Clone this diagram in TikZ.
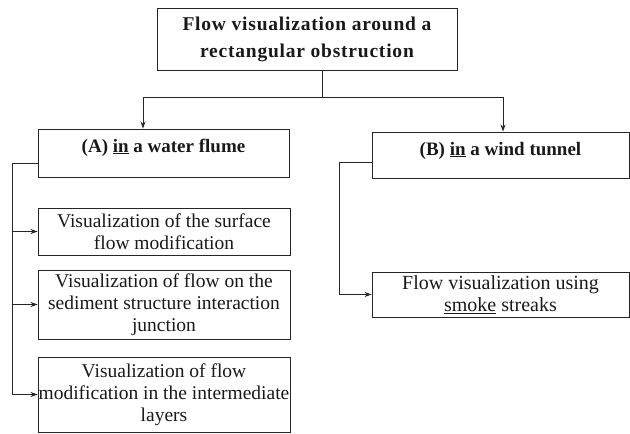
\documentclass[tikz,border=0pt]{standalone}
\usepackage{fontspec}
\setmainfont{Liberation Serif}
\newfontfamily\titlefont[LetterSpace=4]{Liberation Serif}
\usetikzlibrary{arrows.meta,calc}
\begin{document}
\begin{tikzpicture}[x=1pt,y=-1pt,
  box/.style={draw=black!85,line width=0.9pt,rectangle,inner sep=0pt,align=center,text=black!90,font=\fontsize{19.5}{22}\selectfont},
  hbox/.style={box,font=\fontsize{19}{27}\selectfont\bfseries},
  conn/.style={draw=black!85,line width=0.9pt},
  arr/.style={conn,-{Stealth[length=7pt,width=5pt]}}]
\useasboundingbox (0,0) rectangle (630,434);
\node[hbox,font=\fontsize{19.5}{27}\selectfont\titlefont\bfseries,minimum width=300pt,minimum height=62pt] (top) at (307,39) {Flow visualization around a\\rectangular obstruction};
\node[hbox,minimum width=251pt,minimum height=48pt,text height=23pt,text depth=25pt] (A) at (163.5,153) {(A) \underline{in} a water flume};
\node[hbox,minimum width=257pt,minimum height=46pt,text height=23pt,text depth=23pt] (B) at (500.5,155) {(B) \underline{in} a wind tunnel};
\node[box,minimum width=252pt,minimum height=47pt] (b1) at (164,231.5) {Visualization of the surface\\flow modification};
\node[box,minimum width=252pt,minimum height=69pt] (b2) at (164,304.5) {Visualization of flow on the\\sediment structure interaction\\junction};
\node[box,minimum width=252pt,minimum height=75pt] (b3) at (164,394.5) {Visualization of flow\\modification in the intermediate\\layers};
\node[box,font=\fontsize{20}{22}\selectfont,minimum width=257pt,minimum height=45pt] (s) at (500.5,294.5) {Flow visualization using\\\underline{smoke} streaks};
\coordinate (j) at (322,97);
\coordinate (jl) at (143,97);
\coordinate (jr) at (503,97);
\draw[conn] (top.south -| j) -- (j);
\draw[arr] (j) -- (jl) -- (A.north -| jl);
\draw[arr] (j) -- (jr) -- (B.north -| jr);
\coordinate (la) at ($(A.west)+(0,10)$);
\coordinate (tl) at (12,0);
\draw[conn] (la) -- (la -| tl) -- (b3.west -| tl);
\draw[arr] (b1.west -| tl) -- (b1.west);
\draw[arr] (b2.west -| tl) -- (b2.west);
\draw[arr] (b3.west -| tl) -- (b3.west);
\coordinate (lb) at ($(B.west)+(0,7)$);
\coordinate (tr) at (339,0);
\draw[conn] (lb) -- (lb -| tr) -- (s.west -| tr);
\draw[arr] (s.west -| tr) -- (s.west);
\end{tikzpicture}
\end{document}
